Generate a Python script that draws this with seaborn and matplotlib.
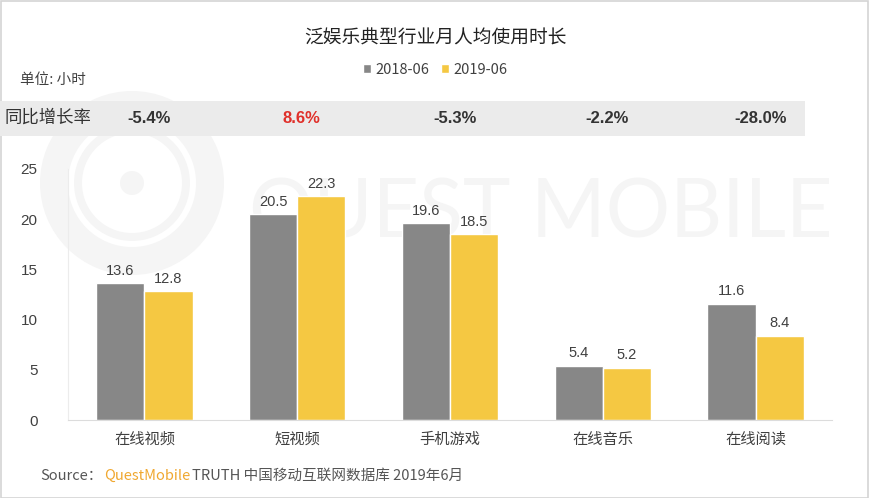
import matplotlib
matplotlib.use("Agg")
import matplotlib.pyplot as plt
import seaborn as sns
import pandas as pd
from matplotlib.patches import Rectangle, Wedge, Circle
from matplotlib.transforms import blended_transform_factory, Affine2D

categories = ["在线视频", "短视频", "手机游戏", "在线音乐", "在线阅读"]
series_names = ["2018-06", "2019-06"]
values_2018 = [13.6, 20.5, 19.6, 5.4, 11.6]
values_2019 = [12.8, 22.3, 18.5, 5.2, 8.4]
growth_labels = ["-5.4%", "8.6%", "-5.3%", "-2.2%", "-28.0%"]
y_ticks = [0, 5, 10, 15, 20, 25]

df = pd.DataFrame({
    "类别": categories * 2,
    "时期": [series_names[0]] * 5 + [series_names[1]] * 5,
    "时长": values_2018 + values_2019,
})

sns.set_theme(style="white")
plt.rcParams["font.family"] = ["Noto Sans CJK SC", "DejaVu Sans"]

W, H = 870, 498
fig = plt.figure(figsize=(W / 100, H / 100), dpi=100)
fig.patch.set_facecolor("white")

def fx(px):
    return px / W

def fy(py):
    return 1 - py / H

# pixel transform with origin at top-left
pix = Affine2D().scale(1, -1).translate(0, H)

# frame border
fig.patches.append(Rectangle((0.001, 0.001), 0.997, 0.997, transform=fig.transFigure,
                             fill=False, edgecolor="#d4d4d4", linewidth=1.2, zorder=0))

# watermark logo + text (very faint, behind the bars)
wm = "#f5f5f5"
fig.patches.append(Wedge((132, 183), 92, 0, 360, width=28, transform=pix,
                         facecolor=wm, edgecolor="none", zorder=-5))
fig.patches.append(Wedge((132, 183), 58, 0, 360, width=8, transform=pix,
                         facecolor=wm, edgecolor="none", zorder=-5))
fig.patches.append(Circle((132, 183), 12, transform=pix,
                          facecolor=wm, edgecolor="none", zorder=-5))
fig.text(fx(833), fy(214), "QUEST MOBILE", fontsize=58, color=wm,
         ha="right", va="center", family=["Lato", "DejaVu Sans"], zorder=-5)

# growth band
fig.patches.append(Rectangle((0, fy(136)), fx(805), fy(101) - fy(136),
                             transform=fig.transFigure, facecolor="#ebebeb",
                             edgecolor="none", zorder=0))

ax = fig.add_axes([fx(68), fy(420), fx(832) - fx(68), fy(169) - fy(420)])
ax.patch.set_alpha(0)
ax.set_zorder(2)

palette = {"2018-06": "#878787", "2019-06": "#F5C842"}
sns.barplot(data=df, x="类别", y="时长", hue="时期", order=categories,
            hue_order=series_names, palette=palette, width=0.63, gap=0,
            saturation=1, ax=ax, legend=True)

for cont in ax.containers:
    ax.bar_label(cont, fmt="%.1f", padding=4, fontsize=10.5, color="#404040",
                 family=["Liberation Sans", "DejaVu Sans"])

ax.set_ylim(0, 25)
ax.set_xlim(-0.5, 4.5)
ax.set_yticks(y_ticks)
ax.set_yticklabels([str(v) for v in y_ticks], fontsize=11, color="#404040",
                   family=["Liberation Sans", "DejaVu Sans"])
ax.tick_params(axis="y", length=0, pad=22)
ax.tick_params(axis="x", length=0, pad=8, labelsize=11, labelcolor="#404040")
ax.set_xlabel("")
ax.set_ylabel("")
for s in ["top", "right"]:
    ax.spines[s].set_visible(False)
ax.spines["left"].set_color("#ececec")
ax.spines["bottom"].set_color("#dcdcdc")
ax.spines["left"].set_linewidth(0.8)
ax.spines["bottom"].set_linewidth(0.8)

handles, labels = ax.get_legend_handles_labels()
ax.get_legend().remove()
fig.legend(handles, labels, loc="center", bbox_to_anchor=(0.5, fy(70)), ncol=2,
           frameon=False, handlelength=0.55, handleheight=0.55, handletextpad=0.3,
           columnspacing=0.8, fontsize=10.5, labelcolor="#404040")

# title
fig.text(0.5, fy(38), "泛娱乐典型行业月人均使用时长", ha="center", va="center",
         fontsize=13.5, color="#222222")
fig.text(fx(20), fy(80), "单位: 小时", ha="left", va="center", fontsize=10.5, color="#404040")

fig.text(fx(5), fy(118), "同比增长率", ha="left", va="center", fontsize=12.5,
         color="#333333", fontweight="medium", zorder=5)
trans = blended_transform_factory(ax.transData, fig.transFigure)
for i, g in enumerate(growth_labels):
    col = "#e0302a" if not g.startswith("-") else "#333333"
    fig.text(i + 0.03, fy(118), g, transform=trans, ha="center", va="center",
             fontsize=12, fontweight="bold", color=col, zorder=5,
             family=["Liberation Sans", "DejaVu Sans"])

# source
sy = fy(476)
fig.text(fx(40), sy, "Source：", ha="left", va="center", fontsize=10.5, color="#555555")
fig.text(fx(104), sy, "QuestMobile", ha="left", va="center", fontsize=10.5,
         color="#F0A830")
fig.text(fx(192), sy, "TRUTH 中国移动互联网数据库 2019年6月", ha="left", va="center",
         fontsize=10.5, color="#555555")

fig.savefig("out.png", dpi=100, facecolor="white")
